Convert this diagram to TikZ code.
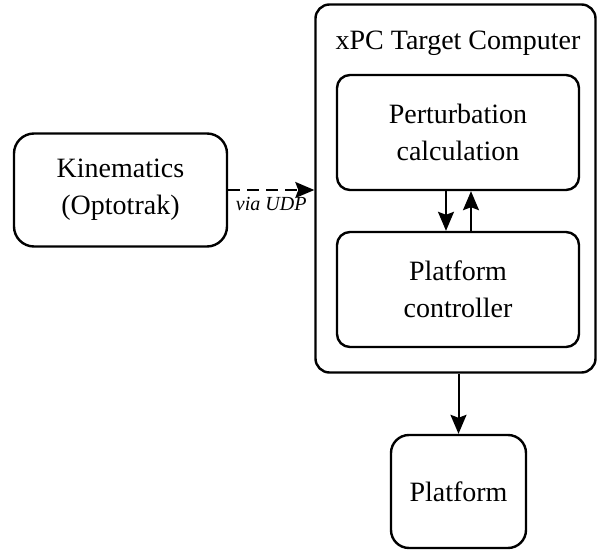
\documentclass[tikz,border=0pt]{standalone}
\usepackage{fontspec}
\setmainfont{Liberation Serif}
\usetikzlibrary{arrows.meta}
\begin{document}
\begin{tikzpicture}[x=1pt,y=-1pt,
  box/.style={draw,line width=2.4pt,rounded corners=#1,align=center,inner sep=0pt,
    font=\fontsize{28}{37}\selectfont},
  box/.default=16pt,
  arr/.style={line width=2pt,-{Stealth[length=19pt,width=16pt,inset=3pt]}}]
\useasboundingbox (0,0) rectangle (598,551);
\node[box=14pt,minimum width=280pt,minimum height=368pt] (outer) at (455.5,188.5) {};
\node[font=\fontsize{28}{37}\selectfont] (title) at (458,43) {xPC Target Computer};
\node[box=20pt,minimum width=213pt,minimum height=113pt] (kin) at (120.5,190) {Kinematics\\(Optotrak)};
\node[box=13pt,minimum width=242pt,minimum height=115pt] (pert) at (458,132.5) {Perturbation\\calculation};
\node[box=13pt,minimum width=242pt,minimum height=115pt] (ctrl) at (458,289.5) {Platform\\controller};
\node[box=18pt,minimum width=135pt,minimum height=113pt] (plat) at (458.5,491.5) {Platform};
\draw[arr,dash pattern=on 12pt off 7pt] (kin.east) -- (kin.east -| outer.west)
  node[pos=0.5,below=3pt,font=\itshape\fontsize{20}{24}\selectfont] (udp) {via UDP};
\draw[arr] ([xshift=-12pt]pert.south) -- ([xshift=-12pt]ctrl.north);
\draw[arr] ([xshift=13pt]ctrl.north) -- ([xshift=13pt]pert.south);
\draw[arr] (outer.south -| plat.north) -- (plat.north);
\end{tikzpicture}
\end{document}
